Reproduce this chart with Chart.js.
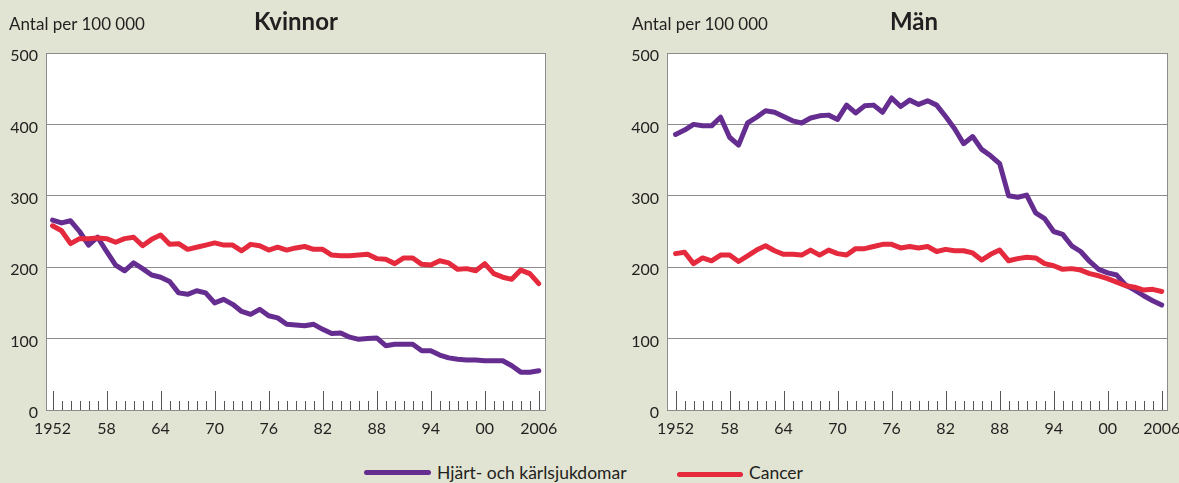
<!DOCTYPE html>
<html>
<head>
<meta charset="utf-8">
<script src="https://cdn.jsdelivr.net/npm/chart.js@4.4.1/dist/chart.umd.min.js"></script>
<style>
    body { margin: 0; width: 1179px; height: 483px; overflow: hidden; position: relative;
           background: #e1e4d2; font-family: Lato, sans-serif; color: #231f20; }
    canvas { position: absolute; top: 0; }
    #kvinnorChart { left: 0; }
    #manChart { left: 600px; }
    .unit { position: absolute; top: 13px; font-size: 17px; white-space: nowrap; }
    .title { position: absolute; top: 6px; font-size: 24px; font-weight: bold; transform: translateX(-50%); }
    .swatch { position: absolute; height: 5px; border-radius: 3px; }
    .legend-text { position: absolute; top: 462px; font-size: 17.5px; white-space: nowrap; }
</style>
</head>
<body>
<canvas id="kvinnorChart" width="600" height="450"></canvas>
<canvas id="manChart" width="620" height="450"></canvas>

<div class="unit" style="left:9px">Antal per 100 000</div>
<div class="title" style="left:296px">Kvinnor</div>
<div class="unit" style="left:632px">Antal per 100 000</div>
<div class="title" style="left:914px">Män</div>

<div class="swatch" style="left:364px;top:470px;width:67px;background:#662d91"></div>
<div class="legend-text" style="left:437px">Hjärt- och kärlsjukdomar</div>
<div class="swatch" style="left:677px;top:472px;width:66px;background:#e42a3c"></div>
<div class="legend-text" style="left:749px">Cancer</div>

<script>
// Years 1952-2006
const years = [
    1952, 1953, 1954, 1955, 1956, 1957, 1958, 1959, 1960, 1961,
    1962, 1963, 1964, 1965, 1966, 1967, 1968, 1969, 1970, 1971,
    1972, 1973, 1974, 1975, 1976, 1977, 1978, 1979, 1980, 1981,
    1982, 1983, 1984, 1985, 1986, 1987, 1988, 1989, 1990, 1991,
    1992, 1993, 1994, 1995, 1996, 1997, 1998, 1999, 2000, 2001,
    2002, 2003, 2004, 2005, 2006
];
const labeledYears = [1952, 1958, 1964, 1970, 1976, 1982, 1988, 1994, 2000, 2006];
const yTicks = [0, 100, 200, 300, 400, 500];

// Kvinnor
const kvinnorHjart = [
    266, 262, 265, 250, 231, 242, 222, 203, 195, 206,
    198, 189, 186, 180, 164, 162, 167, 164, 150, 155,
    148, 138, 134, 141, 132, 129, 120, 119, 118, 120,
    113, 107, 108, 102, 99, 100, 101, 90, 92, 92,
    92, 83, 83, 77, 73, 71, 70, 70, 69, 69,
    69, 62, 53, 53, 55
];
const kvinnorCancer = [
    258, 251, 233, 240, 240, 241, 240, 235, 240, 242,
    230, 239, 245, 232, 233, 225, 228, 231, 234, 231,
    231, 223, 232, 230, 224, 228, 224, 227, 229, 225,
    225, 217, 216, 216, 217, 218, 212, 211, 205, 213,
    213, 204, 203, 209, 206, 197, 198, 195, 205, 191,
    186, 183, 196, 191, 177
];

// Män
const manHjart = [
    386, 392, 400, 398, 398, 410, 382, 371, 402, 410,
    419, 417, 411, 405, 402, 409, 412, 413, 407, 427,
    416, 426, 427, 417, 437, 425, 434, 428, 433, 427,
    411, 394, 373, 383, 365, 356, 345, 300, 298, 301,
    276, 268, 250, 246, 230, 222, 208, 197, 192, 189,
    175, 168, 160, 153, 147
];
const manCancer = [
    219, 221, 205, 213, 209, 217, 217, 208, 216, 224,
    230, 223, 218, 218, 217, 224, 217, 224, 219, 217,
    226, 226, 229, 232, 232, 227, 229, 227, 229, 222,
    225, 223, 223, 220, 210, 218, 224, 209, 212, 214,
    213, 205, 202, 197, 198, 196, 191, 188, 184, 179,
    174, 172, 168, 169, 166
];

const PURPLE = '#662d91';
const RED = '#e42a3c';
const GRID = '#8c8c8c';
const TEXT = '#231f20';

// White plot, frame round it and year ticks standing up from the bottom
const frameTicks = {
    id: 'frameTicks',
    beforeDraw(chart) {
        const { ctx, chartArea: a } = chart;
        ctx.save();
        ctx.fillStyle = '#fff';
        ctx.fillRect(a.left, a.top, a.right - a.left, a.bottom - a.top);
        ctx.restore();
    },
    beforeDatasetsDraw(chart) {
        const { ctx, chartArea: a, scales } = chart;
        ctx.save();
        ctx.strokeStyle = GRID;
        ctx.lineWidth = 1;
        ctx.strokeRect(Math.round(a.left) + 0.5, Math.round(a.top) + 0.5,
            Math.round(a.right - a.left) - 1, Math.round(a.bottom - a.top));
        ctx.strokeStyle = '#555';
        ctx.beginPath();
        years.forEach(yr => {
            const x = Math.round(scales.x.getPixelForValue(yr)) + 0.5;
            const len = (yr - 1952) % 6 === 0 ? 19 : 9;
            ctx.moveTo(x, a.bottom);
            ctx.lineTo(x, a.bottom - len);
        });
        ctx.stroke();
        ctx.restore();
    }
};

function makeChart(id, hjart, cancer, xMin, xMax, yWidth, padRight) {
    const ctx = document.getElementById(id).getContext('2d');
    return new Chart(ctx, {
        type: 'line',
        data: {
            datasets: [
                {
                    label: 'Cancer',
                    data: years.map((yr, i) => ({ x: yr, y: cancer[i] })),
                    borderColor: RED,
                    borderWidth: 5,
                    pointRadius: 0,
                    borderCapStyle: 'round',
                    borderJoinStyle: 'round'
                },
                {
                    label: 'Hjärt- och kärlsjukdomar',
                    data: years.map((yr, i) => ({ x: yr, y: hjart[i] })),
                    borderColor: PURPLE,
                    borderWidth: 5,
                    pointRadius: 0,
                    borderCapStyle: 'round',
                    borderJoinStyle: 'round'
                }
            ]
        },
        options: {
            responsive: false,
            animation: false,
            layout: { padding: { top: 53, right: padRight, left: 0, bottom: 0 } },
            plugins: { legend: { display: false }, tooltip: { enabled: false } },
            scales: {
                x: {
                    type: 'linear',
                    min: xMin,
                    max: xMax,
                    afterBuildTicks: (scale) => {
                        scale.ticks = labeledYears.map(v => ({ value: v }));
                    },
                    afterFit: (scale) => { scale.height = 40; },
                    grid: { display: false, drawTicks: false },
                    border: { display: false },
                    ticks: {
                        autoSkip: false,
                        maxRotation: 0,
                        padding: 9,
                        color: TEXT,
                        font: { family: 'Lato', size: 16 },
                        callback: (v) => (v === 1952 || v === 2006) ? String(v) : String(v % 100).padStart(2, '0')
                    }
                },
                y: {
                    min: 0,
                    max: 500,
                    afterBuildTicks: (scale) => {
                        scale.ticks = yTicks.map(v => ({ value: v }));
                    },
                    afterFit: (scale) => { scale.width = yWidth; },
                    grid: { color: GRID, lineWidth: 1, drawTicks: false },
                    border: { display: false },
                    ticks: {
                        padding: 8,
                        labelOffset: 3,
                        color: TEXT,
                        font: { family: 'Lato', size: 16 }
                    }
                }
            }
        },
        plugins: [frameTicks]
    });
}

makeChart('kvinnorChart', kvinnorHjart, kvinnorCancer, 1951.27, 2006.8, 46, 54);
makeChart('manChart', manHjart, manCancer, 1951.05, 2006.7, 67, 52);
</script>
</body>
</html>
